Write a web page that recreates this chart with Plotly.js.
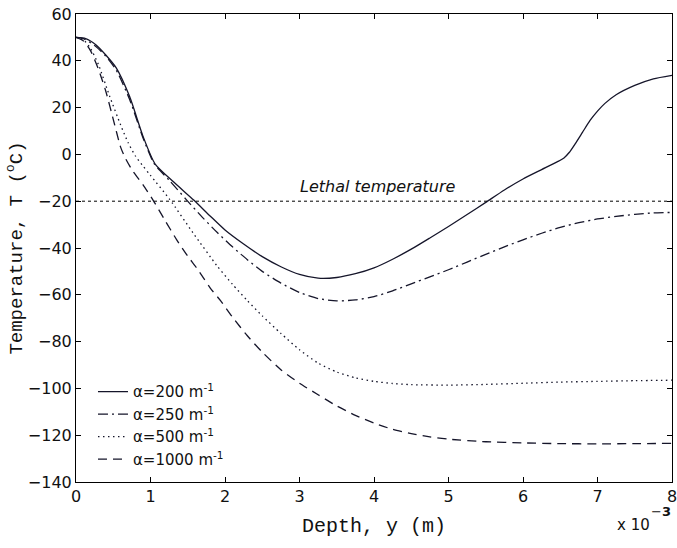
<!DOCTYPE html>
<html>
<head>
<meta charset="utf-8">
<script src="https://cdn.plot.ly/plotly-3.0.1.min.js"></script>
<style>html,body{margin:0;padding:0;background:#fff;}#chart{width:677px;height:548px;}</style>
</head>
<body>
<div id="chart"></div>
<script>
// Depth in units of 1e-3 m, temperature in °C
const x200 = [0, 0.13, 0.27, 0.4, 0.54, 0.72, 0.9, 1.06, 1.3, 1.58, 1.8, 2.0, 2.25, 2.5, 2.75, 3.0, 3.25, 3.5, 3.75, 4.0, 4.25, 4.5, 4.75, 5.0, 5.25, 5.5, 5.75, 6.0, 6.25, 6.47, 6.55, 6.62, 6.7, 6.8, 6.9, 7.0, 7.1, 7.25, 7.5, 7.75, 8.0];
const y200 = [50, 49.5, 46.8, 42.5, 37, 24.7, 7.7, -4, -11.5, -19.5, -26.3, -32.3, -38.3, -43.7, -48, -51.3, -52.9, -52.6, -51, -48.5, -44.8, -40.5, -35.7, -30.8, -25.7, -20.5, -15.2, -10.5, -6.5, -3, -1.5, 0.8, 4.5, 9.5, 14.5, 18.5, 21.8, 25.5, 29.5, 32.3, 33.8];

const x250 = [0, 0.1, 0.25, 0.4, 0.54, 0.72, 0.9, 1.05, 1.25, 1.48, 1.7, 1.9, 2.1, 2.3, 2.5, 2.75, 3.0, 3.25, 3.5, 3.75, 4.0, 4.25, 4.5, 4.75, 5.0, 5.25, 5.5, 5.75, 6.0, 6.25, 6.5, 6.75, 7.0, 7.25, 7.5, 7.75, 8.0];
const y250 = [50, 49.5, 46.5, 42, 36, 23.5, 7, -4, -11, -19.3, -27, -33.5, -39.5, -45, -50, -55, -59, -61.6, -62.6, -62.2, -60.8, -58.3, -55.3, -52.3, -49.3, -46, -42.7, -39.5, -36.5, -33.7, -31.2, -29.2, -27.6, -26.5, -25.6, -25, -24.8];

const x500 = [0, 0.1, 0.2, 0.3, 0.45, 0.6, 0.7, 0.8, 0.9, 1.0, 1.26, 1.57, 1.89, 2.1, 2.3, 2.5, 2.75, 3.0, 3.25, 3.5, 3.75, 4.0, 4.25, 4.5, 5.0, 5.5, 6.0, 6.5, 7.0, 7.5, 8.0];
const y500 = [50, 49, 45, 38.5, 25, 12.5, 5, -0.8, -5, -9, -19.3, -33.5, -47.5, -55.5, -62.5, -69, -76.5, -83.5, -89.2, -93, -95.5, -97, -97.9, -98.4, -98.6, -98.3, -97.8, -97.3, -97, -96.7, -96.5];

const x1000 = [0, 0.1, 0.2, 0.3, 0.4, 0.5, 0.6, 0.66, 0.76, 0.9, 1.03, 1.2, 1.35, 1.5, 1.62, 1.8, 1.94, 2.1, 2.3, 2.5, 2.75, 3.0, 3.25, 3.5, 3.75, 4.0, 4.25, 4.5, 4.75, 5.0, 5.5, 6.0, 6.5, 7.0, 7.5, 8.0];
const y1000 = [50, 48.5, 44, 36.5, 27, 15, 3, -1.5, -7, -13, -19.3, -28.5, -36.4, -43.5, -48.5, -57, -62.5, -69.5, -77.5, -84.5, -92, -97.8, -102.7, -107.5, -111.5, -114.8, -117.5, -119.3, -120.7, -121.7, -122.8, -123.3, -123.6, -123.7, -123.6, -123.5];

const lethalX = [0, 8];
const lethalY = [-20, -20];

const seriesNames = ['α=200 m<sup>-1</sup>', 'α=250 m<sup>-1</sup>', 'α=500 m<sup>-1</sup>', 'α=1000 m<sup>-1</sup>'];
const xTicks = [0, 1, 2, 3, 4, 5, 6, 7, 8];
const yTicks = [60, 40, 20, 0, -20, -40, -60, -80, -100, -120, -140];

const lc = '#15152a';
const sans = 'DejaVu Sans, Arial, sans-serif';
const mono = 'Liberation Mono, Courier New, monospace';
const sp = {shape: 'spline', smoothing: 0.6};
const traces = [
  {x: x200, y: y200, name: seriesNames[0], mode: 'lines', line: Object.assign({color: lc, width: 1.3, dash: 'solid'}, sp)},
  {x: x250, y: y250, name: seriesNames[1], mode: 'lines', line: Object.assign({color: lc, width: 1.3, dash: '10px,4px,2px,4px'}, sp)},
  {x: x500, y: y500, name: seriesNames[2], mode: 'lines', line: Object.assign({color: lc, width: 1.3, dash: '1.5px,3.5px'}, sp)},
  {x: x1000, y: y1000, name: seriesNames[3], mode: 'lines', line: Object.assign({color: lc, width: 1.3, dash: '9px,6px'}, sp)},
  {x: lethalX, y: lethalY, name: 'Lethal', mode: 'lines', showlegend: false, line: {color: '#000', width: 1, dash: '3px,3px'}}
];

const layout = {
  width: 677, height: 548,
  margin: {l: 76, r: 5, t: 14, b: 66},
  paper_bgcolor: '#fff', plot_bgcolor: '#fff',
  showlegend: true,
  legend: {x: 0.0285, y: 0.228, xanchor: 'left', yanchor: 'top', bgcolor: 'rgba(0,0,0,0)',
           font: {family: sans, size: 15, color: '#111'}, tracegroupgap: 0},
  xaxis: {
    range: [0, 8], tickvals: xTicks, ticks: 'inside', ticklen: 5, tickcolor: '#000',
    showline: true, linecolor: '#000', linewidth: 1, mirror: 'ticks', showgrid: false, zeroline: false,
    ticklabeloverflow: 'allow',
    tickfont: {family: sans, size: 16, color: '#111'},
    title: {text: 'Depth, y (m)', font: {family: mono, size: 20, color: '#111'}, standoff: 12}
  },
  yaxis: {
    range: [-140, 60], tickvals: yTicks, ticks: 'inside', ticklen: 5, tickcolor: '#000',
    showline: true, linecolor: '#000', linewidth: 1, mirror: 'ticks', showgrid: false, zeroline: false,
    ticklabeloverflow: 'allow',
    tickfont: {family: sans, size: 16, color: '#111'},
    title: {text: 'Temperature, T (<sup>o</sup>C)', font: {family: mono, size: 19, color: '#111'}, standoff: 0}
  },
  annotations: [
    {x: 4.06, y: -20, xref: 'x', yref: 'y', text: '<i>Lethal temperature</i>', showarrow: false, yanchor: 'bottom', yshift: 3,
     font: {family: sans, size: 16, color: '#111'}},
    {x: 0.9346, y: -0.0919, xref: 'paper', yref: 'paper', xanchor: 'center', yanchor: 'middle',
     text: 'x 10', showarrow: false, font: {family: sans, size: 15, color: '#111'}},
    {x: 0.9815, y: -0.0641, xref: 'paper', yref: 'paper', xanchor: 'center', yanchor: 'middle',
     text: '−<b>3</b>', showarrow: false, font: {family: sans, size: 13, color: '#111'}}
  ]
};

Plotly.newPlot('chart', traces, layout, {displayModeBar: false, staticPlot: true});
</script>
</body>
</html>
